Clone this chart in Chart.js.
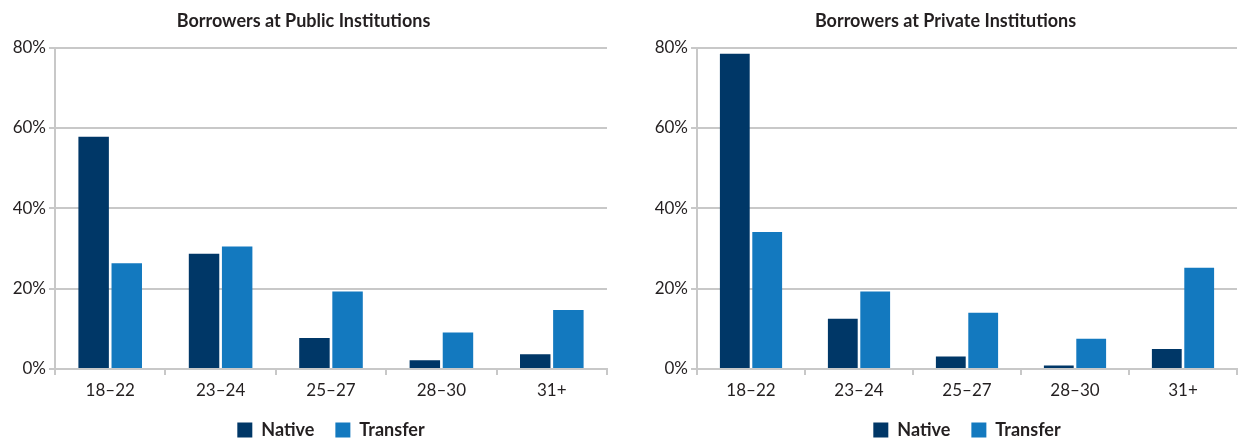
<!DOCTYPE html>
<html lang="en">
<head>
  <meta charset="UTF-8" />
  <title>Borrowers by Age</title>
  <script src="https://cdn.jsdelivr.net/npm/chart.js"></script>
  <style>
    html, body { margin: 0; padding: 0; background: #fff; }
    body { width: 1245px; height: 441px; position: relative; overflow: hidden; }
    .panel { position: absolute; top: 0; height: 441px; }
    #leftPanel { left: 0; width: 620px; }
    #rightPanel { left: 654px; width: 591px; }
  </style>
</head>
<body>

  <div class="panel" id="leftPanel"><canvas id="publicChart"></canvas></div>
  <div class="panel" id="rightPanel"><canvas id="privateChart"></canvas></div>

  <script>
    // age groups along the x axis
    const ageGroups = ['18–22', '23–24', '25–27', '28–30', '31+'];
    const yTicks = [0, 20, 40, 60, 80];

    // share of borrowers (%) - public institutions
    const publicNative = [57.8, 28.7, 7.7, 2.2, 3.7];
    const publicTransfer = [26.3, 30.5, 19.3, 9.1, 14.7];

    // share of borrowers (%) - private institutions
    const privateNative = [78.5, 12.5, 3.1, 0.9, 5.0];
    const privateTransfer = [34.1, 19.3, 14.0, 7.5, 25.2];

    const NAVY = '#003767';
    const BLUE = '#1379bf';
    const GRID = '#c8c8c8';
    const TEXT = '#231f20';

    function makeChart(id, title, native, transfer, axisWidth, padRight) {
      const ctx = document.getElementById(id).getContext('2d');
      return new Chart(ctx, {
        type: 'bar',
        data: {
          labels: ageGroups,
          datasets: [
            { label: 'Native', data: native, backgroundColor: NAVY,
              barPercentage: 0.92, categoryPercentage: 0.6 },
            { label: 'Transfer', data: transfer, backgroundColor: BLUE,
              barPercentage: 0.92, categoryPercentage: 0.6 }
          ]
        },
        options: {
          responsive: true,
          maintainAspectRatio: false,
          animation: false,
          // negative bottom padding lets the legend sit lower without a tall box
          layout: { padding: { top: 0, right: padRight, bottom: -8, left: 0 } },
          plugins: {
            title: {
              display: true,
              text: title,
              color: TEXT,
              font: { family: 'Lato', size: 18, weight: 'bold' },
              padding: { top: 10, bottom: 16 }
            },
            legend: {
              position: 'bottom',
              fullSize: false,
              labels: {
                color: TEXT,
                font: { family: 'Lato', size: 18, weight: 'bold' },
                boxWidth: 15,
                boxHeight: 15,
                padding: 21
              }
            },
            tooltip: { enabled: false }
          },
          scales: {
            x: {
              afterFit: (scale) => { scale.height = 31; },
              grid: { display: true, drawOnChartArea: false, drawTicks: true, tickLength: 6,
                      color: GRID, lineWidth: 2 },
              border: { color: GRID, width: 2 },
              ticks: { color: TEXT, font: { family: 'Lato', size: 17 }, padding: 5 }
            },
            y: {
              min: 0,
              max: yTicks[yTicks.length - 1],
              afterBuildTicks: (scale) => { scale.ticks = yTicks.map(v => ({ value: v })); },
              afterFit: (scale) => { scale.width = axisWidth; },
              grid: { color: GRID, lineWidth: 2, drawTicks: true, tickLength: 6 },
              border: { color: GRID, width: 2 },
              ticks: { color: TEXT, font: { family: 'Lato', size: 17 }, padding: 3,
                       callback: (v) => v + '%' }
            }
          }
        }
      });
    }

    makeChart('publicChart', 'Borrowers at Public Institutions', publicNative, publicTransfer, 55, 13);
    makeChart('privateChart', 'Borrowers at Private Institutions', privateNative, privateTransfer, 43, 8);
  </script>

</body>
</html>
